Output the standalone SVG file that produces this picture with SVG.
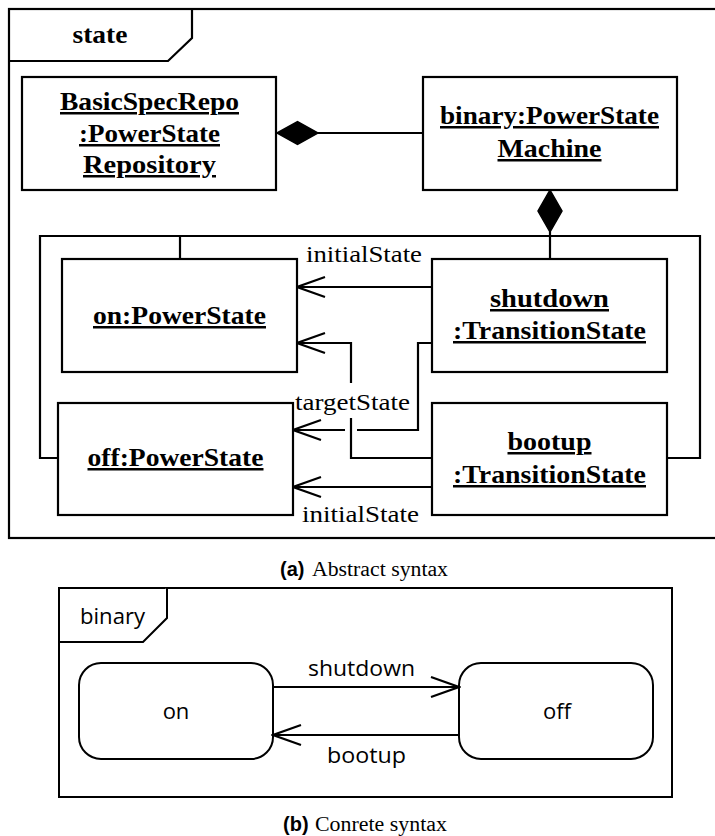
<svg xmlns="http://www.w3.org/2000/svg" width="715" height="836" viewBox="0 0 715 836">
  <style>
    .frame{fill:none;stroke:#000;stroke-width:2.2}
    .box{fill:#fff;stroke:#000;stroke-width:2.2}
    .line{fill:none;stroke:#000;stroke-width:2.2}
    .obj{font-family:"Liberation Serif","Times New Roman",serif;font-weight:bold;font-size:25px;text-decoration:underline;text-anchor:middle;fill:#000}
    .role{font-family:"Liberation Serif","Times New Roman",serif;font-size:24px;fill:#000}
    .title{font-family:"Liberation Serif","Times New Roman",serif;font-weight:bold;font-size:26px;text-anchor:middle;fill:#000}
    .cap{font-family:"Liberation Serif","Times New Roman",serif;font-size:20px;fill:#000}
    .capb{font-family:"Liberation Sans",Arial,sans-serif;font-weight:bold;font-size:20px;fill:#000}
    .st{fill:#fff;stroke:#000;stroke-width:2}
    .sm{font-family:"Open Sans","DejaVu Sans",sans-serif;font-size:22px;fill:#000}
  </style>
  <defs>
    <marker id="open" viewBox="-30 -12 32 24" refX="0" refY="0" markerWidth="32" markerHeight="24" markerUnits="userSpaceOnUse" orient="auto">
      <path d="M-28,-10 L0,0 L-28,10" fill="none" stroke="#000" stroke-width="2.2"/>
    </marker>
  </defs>

  <!-- (a) object diagram frame -->
  <g id="frame-state">
    <rect class="frame" x="9" y="9" width="720" height="529"/>
    <path class="frame" d="M9,61 H168 L192,38 V9"/>
    <text class="title" x="100" y="43" textLength="55" lengthAdjust="spacingAndGlyphs">state</text>
  </g>

  <g id="connectors-a">
    <!-- composition: repository owns state machine -->
    <line class="line" x1="318" y1="133" x2="423" y2="133"/>
    <polygon points="277,133 297.5,121.5 318,133 297.5,144.5" fill="#000" stroke="#000" stroke-width="1.5"/>
    <!-- composition: state machine owns its states -->
    <polygon points="550,190 562,211 550,232 538,211" fill="#000" stroke="#000" stroke-width="1.5"/>
    <line class="line" x1="550" y1="232" x2="550" y2="259"/>
    <polyline class="line" points="58,458 40,458 40,236 700,236 700,458 667,458"/>
    <line class="line" x1="180" y1="236" x2="180" y2="259"/>
    <!-- shutdown.initialState -> on -->
    <line class="line" x1="432" y1="287" x2="297" y2="287" marker-end="url(#open)"/>
    <!-- bootup.targetState -> on -->
    <path class="line" d="M432,458 H351 V418"/>
    <path class="line" d="M351,383 V343 H297" marker-end="url(#open)"/>
    <!-- shutdown.targetState -> off (broken where it crosses) -->
    <path class="line" d="M432,343 H418 V430 H357"/>
    <path class="line" d="M345,430 H293" marker-end="url(#open)"/>
    <!-- bootup.initialState -> off -->
    <line class="line" x1="432" y1="487" x2="293" y2="487" marker-end="url(#open)"/>
    <text class="role" x="306" y="262" textLength="116" lengthAdjust="spacingAndGlyphs">initialState</text>
    <text class="role" x="295" y="410" textLength="115" lengthAdjust="spacingAndGlyphs">targetState</text>
    <text class="role" x="302" y="522" textLength="117" lengthAdjust="spacingAndGlyphs">initialState</text>
  </g>

  <g id="repo">
    <rect class="box" x="22" y="77" width="254" height="113"/>
    <text class="obj" x="149.5" y="110" textLength="179" lengthAdjust="spacingAndGlyphs">BasicSpecRepo</text>
    <text class="obj" x="149.5" y="142" textLength="141" lengthAdjust="spacingAndGlyphs">:PowerState</text>
    <text class="obj" x="149.5" y="173" textLength="133" lengthAdjust="spacingAndGlyphs">Repository</text>
  </g>

  <g id="machine">
    <rect class="box" x="423" y="77" width="254" height="113"/>
    <text class="obj" x="549.5" y="124" textLength="219" lengthAdjust="spacingAndGlyphs">binary:PowerState</text>
    <text class="obj" x="549.5" y="157" textLength="104" lengthAdjust="spacingAndGlyphs">Machine</text>
  </g>

  <g id="on-state">
    <rect class="box" x="62" y="259" width="235" height="113"/>
    <text class="obj" x="179.5" y="324" textLength="173" lengthAdjust="spacingAndGlyphs">on:PowerState</text>
  </g>

  <g id="off-state">
    <rect class="box" x="58" y="403" width="235" height="112"/>
    <text class="obj" x="175.5" y="466" textLength="176" lengthAdjust="spacingAndGlyphs">off:PowerState</text>
  </g>

  <g id="shutdown">
    <rect class="box" x="432" y="259" width="235" height="113"/>
    <text class="obj" x="549.5" y="307" textLength="119" lengthAdjust="spacingAndGlyphs">shutdown</text>
    <text class="obj" x="549.5" y="339" textLength="193" lengthAdjust="spacingAndGlyphs">:TransitionState</text>
  </g>

  <g id="bootup">
    <rect class="box" x="432" y="403" width="235" height="112"/>
    <text class="obj" x="549.5" y="450" textLength="84" lengthAdjust="spacingAndGlyphs">bootup</text>
    <text class="obj" x="549.5" y="483" textLength="193" lengthAdjust="spacingAndGlyphs">:TransitionState</text>
  </g>

  <g id="caption-a">
    <text x="280" y="576"><tspan class="capb">(a)</tspan><tspan class="cap" x="312" textLength="136" lengthAdjust="spacingAndGlyphs">Abstract syntax</tspan></text>
  </g>

  <!-- (b) state machine -->
  <g id="frame-binary">
    <rect class="st" x="59" y="588" width="613" height="209"/>
    <path class="st" d="M59,642 H143 L167,618 V588" fill="none"/>
    <text class="sm" x="80" y="624" textLength="65" lengthAdjust="spacingAndGlyphs">binary</text>
  </g>

  <g id="state-on">
    <rect class="st" x="79" y="663" width="194" height="96" rx="22"/>
    <text class="sm" x="176" y="719" text-anchor="middle">on</text>
  </g>

  <g id="state-off">
    <rect class="st" x="459" y="663" width="194" height="96" rx="22"/>
    <text class="sm" x="557" y="719" text-anchor="middle">off</text>
  </g>

  <g id="connectors-b">
    <line class="line" x1="273" y1="687" x2="459" y2="687" stroke-width="2" marker-end="url(#open)"/>
    <line class="line" x1="459" y1="735" x2="273" y2="735" stroke-width="2" marker-end="url(#open)"/>
    <text class="sm" x="308" y="676" textLength="107" lengthAdjust="spacingAndGlyphs">shutdown</text>
    <text class="sm" x="327" y="763" textLength="79" lengthAdjust="spacingAndGlyphs">bootup</text>
  </g>

  <g id="caption-b">
    <text x="283" y="831"><tspan class="capb">(b)</tspan><tspan class="cap" x="315" textLength="132" lengthAdjust="spacingAndGlyphs">Conrete syntax</tspan></text>
  </g>
</svg>
